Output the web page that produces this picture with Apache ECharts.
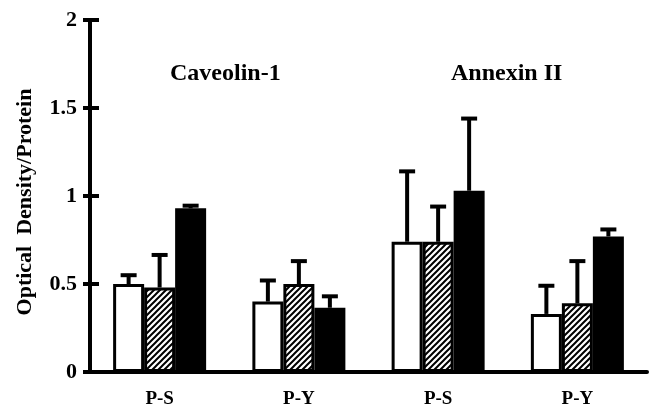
<!DOCTYPE html>
<html>
<head>
<meta charset="utf-8">
<script src="https://cdn.jsdelivr.net/npm/echarts@6/dist/echarts.min.js"></script>
<style>
  html, body { margin: 0; padding: 0; background: #fff; }
  #chart { width: 652px; height: 412px; }
</style>
</head>
<body>
<div id="chart"></div>
<script>
// data
const categories = ['P-S', 'P-Y', 'P-S', 'P-Y'];
const openBars = [0.50, 0.40, 0.74, 0.33];
const openErr = [0.05, 0.12, 0.40, 0.16];
const hatchBars = [0.48, 0.50, 0.74, 0.39];
const hatchErr = [0.185, 0.13, 0.20, 0.24];
const solidBars = [0.93, 0.365, 1.03, 0.77];
const solidErr = [0.015, 0.065, 0.41, 0.04];
const groupTitles = ['Caveolin-1', 'Annexin II'];

const FONT = '"Liberation Serif", "Times New Roman", serif';
const BAR_W = 31;

// diagonal hatch fill
function makeHatch () {
    const c = document.createElement('canvas');
    c.width = 6; c.height = 6;
    const ctx = c.getContext('2d');
    ctx.fillStyle = '#fff';
    ctx.fillRect(0, 0, 6, 6);
    ctx.strokeStyle = '#000';
    ctx.lineWidth = 2;
    ctx.beginPath();
    ctx.moveTo(-1, 7); ctx.lineTo(7, -1);
    ctx.moveTo(-4, 4); ctx.lineTo(4, -4);
    ctx.moveTo(2, 10); ctx.lineTo(10, 2);
    ctx.stroke();
    return c;
}

// error bar items: [category, value, err, slot]
const errData = [];
[[openBars, openErr], [hatchBars, hatchErr], [solidBars, solidErr]].forEach((pair, slot) => {
    pair[0].forEach((v, i) => errData.push([i, v, pair[1][i], slot]));
});

const myChart = echarts.init(document.getElementById('chart'));

const option = {
    animation: false,
    backgroundColor: '#fff',
    grid: { left: 90, right: 5, top: 20, bottom: 40 },
    xAxis: {
        type: 'category',
        data: categories,
        axisLine: { lineStyle: { color: '#000', width: 4 } },
        axisTick: { show: false },
        axisLabel: { color: '#000', fontFamily: FONT, fontWeight: 'bold', fontSize: 19, margin: 18 }
    },
    yAxis: [
        {
            type: 'value',
            min: 0,
            max: 2,
            interval: 0.5,
            name: 'Optical  Density/Protein',
            nameLocation: 'middle',
            nameGap: 54,
            nameTextStyle: { color: '#000', fontFamily: FONT, fontWeight: 'bold', fontSize: 22, padding: [0, 12, 0, 0] },
            axisLine: { show: true, lineStyle: { color: '#000', width: 4 } },
            axisTick: { show: true, length: 7, lineStyle: { color: '#000', width: 4 } },
            axisLabel: { color: '#000', fontFamily: FONT, fontWeight: 'bold', fontSize: 22, margin: 13 },
            splitLine: { show: false }
        },
        {
            // inner half of the crossing ticks
            type: 'value',
            position: 'left',
            min: 0,
            max: 2,
            interval: 0.5,
            axisLine: { show: false },
            axisTick: { show: true, inside: true, length: 9, lineStyle: { color: '#000', width: 4 } },
            axisLabel: { show: false },
            splitLine: { show: false }
        }
    ],
    graphic: [
        { type: 'text', left: 170, top: 62, style: { text: groupTitles[0], fill: '#000', font: 'bold 24px ' + FONT } },
        { type: 'text', left: 451, top: 62, style: { text: groupTitles[1], fill: '#000', font: 'bold 24px ' + FONT } }
    ],
    series: [
        {
            type: 'bar',
            data: openBars,
            barWidth: BAR_W,
            barGap: '0%',
            itemStyle: { color: '#fff', borderColor: '#000', borderWidth: 3 }
        },
        {
            type: 'bar',
            data: hatchBars,
            barWidth: BAR_W,
            barGap: '0%',
            itemStyle: { color: { image: makeHatch(), repeat: 'repeat' }, borderColor: '#000', borderWidth: 3 }
        },
        {
            type: 'bar',
            data: solidBars,
            barWidth: BAR_W,
            barGap: '0%',
            itemStyle: { color: '#000', borderColor: '#000', borderWidth: 3 }
        },
        {
            type: 'custom',
            data: errData,
            z: 5,
            encode: { x: 0, y: 1 },
            renderItem: function (params, api) {
                const cat = api.value(0);
                const val = api.value(1);
                const err = api.value(2);
                const slot = api.value(3);
                const base = api.coord([cat, val]);
                const top = api.coord([cat, val + err]);
                const x = base[0] + (slot - 1) * BAR_W;
                const style = { stroke: '#000', lineWidth: 4 };
                return {
                    type: 'group',
                    children: [
                        { type: 'line', shape: { x1: x, y1: base[1], x2: x, y2: top[1] }, style: style },
                        { type: 'line', shape: { x1: x - 8, y1: top[1], x2: x + 8, y2: top[1] }, style: style }
                    ]
                };
            }
        }
    ]
};

myChart.setOption(option);
</script>
</body>
</html>
